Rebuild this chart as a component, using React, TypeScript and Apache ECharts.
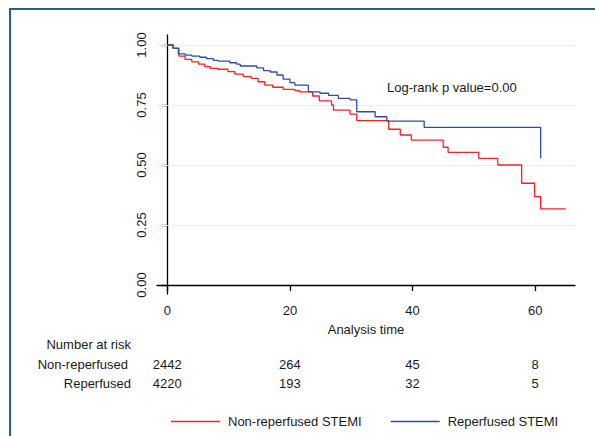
import React, { useEffect, useRef } from "react";
import * as echarts from "echarts";

const seriesNames = ["Non-reperfused STEMI", "Reperfused STEMI"];
const riskRowLabels = ["Non-reperfused", "Reperfused"];
const xTicks = [0, 20, 40, 60];
const yTicks = [0, 0.25, 0.5, 0.75, 1];
const gridValues = [0.25, 0.5, 0.75, 1];

// Kaplan-Meier survival estimates [time, survival]
const nonReperfused: [number, number][] = [
  [0, 1], [0.9, 0.987], [1.9, 0.954], [2.9, 0.94], [4, 0.93], [5.1, 0.92],
  [6.1, 0.91], [7, 0.903], [8.3, 0.899], [9.9, 0.889], [11, 0.879],
  [12.4, 0.868], [13.7, 0.861], [14.8, 0.847], [15.9, 0.833], [17.2, 0.824],
  [18.9, 0.815], [20.8, 0.81], [21.6, 0.805], [23.7, 0.7875], [24.8, 0.767],
  [26.8, 0.75], [27.1, 0.729], [29.8, 0.712], [30.9, 0.685], [36.1, 0.649],
  [38, 0.625], [39.8, 0.604], [45, 0.574], [45.8, 0.553], [50.8, 0.528],
  [53.9, 0.5], [57.8, 0.424], [59.9, 0.368], [60.9, 0.317], [65, 0.317],
];
const reperfused: [number, number][] = [
  [0, 1], [1, 0.986], [1.8, 0.963], [2.9, 0.958], [4, 0.954], [5.3, 0.949],
  [6.4, 0.943], [7.5, 0.936], [8.3, 0.933], [10.2, 0.926], [11.3, 0.92],
  [11.9, 0.9125], [14.6, 0.905], [15.7, 0.893], [16.8, 0.8875], [17.9, 0.875],
  [18.9, 0.858], [20, 0.843], [20.8, 0.833], [23, 0.805], [24.9, 0.799],
  [26.3, 0.79], [27.9, 0.778], [29.8, 0.771], [30.9, 0.722], [33.9, 0.701],
  [35.8, 0.683], [41.9, 0.657], [60.9, 0.657], [60.9, 0.528],
];

const riskTimes = [0, 20, 40, 60];
const riskNonReperfused = [2442, 264, 45, 8];
const riskReperfused = [4220, 193, 32, 5];

const FONT = "'Liberation Sans', Arial, Helvetica, sans-serif";
const TXT = "#1a1a1a";
const FS = 13;

export default function App() {
  const ref = useRef<HTMLDivElement>(null);
  useEffect(() => {
    if (!ref.current) return;
    const chart = echarts.init(ref.current, undefined, { renderer: "svg" });
    chart.setOption({
      animation: false,
      backgroundColor: "#ffffff",
      textStyle: { fontFamily: FONT, color: TXT },
      grid: { left: 157, right: 20, top: 35, bottom: 142, containLabel: false },
      xAxis: {
        type: "value",
        min: -1.68,
        max: 66.5,
        name: "Analysis time",
        nameLocation: "middle",
        nameGap: 29,
        nameTextStyle: { fontSize: FS, color: TXT, fontFamily: FONT },
        axisLine: { show: true, lineStyle: { color: "#000", width: 1.3 } },
        axisTick: { show: true, length: 6, customValues: xTicks, lineStyle: { color: "#000", width: 1.3 } },
        axisLabel: { customValues: xTicks, fontSize: FS, color: TXT, margin: 10, fontFamily: FONT },
        splitLine: { show: false },
      },
      yAxis: {
        type: "value",
        min: -0.0375,
        max: 1.0417,
        axisLine: { show: true, lineStyle: { color: "#000", width: 1.3 } },
        axisTick: { show: true, length: 6, customValues: yTicks, lineStyle: { color: "#000", width: 1.3 } },
        axisLabel: {
          customValues: yTicks,
          rotate: 90,
          fontSize: FS,
          color: TXT,
          margin: 9,
          fontFamily: FONT,
          formatter: (v: number) => v.toFixed(2),
        },
        splitLine: { show: false },
      },
      legend: {
        left: 166,
        top: 410,
        icon: "rect",
        itemWidth: 49,
        itemHeight: 1.5,
        itemGap: 29,
        textStyle: { fontSize: FS, color: TXT, fontFamily: FONT, padding: [0, 0, 0, 3] },
        data: seriesNames,
      },
      series: [
        {
          name: seriesNames[0],
          type: "line",
          step: "end",
          symbol: "none",
          data: nonReperfused,
          lineStyle: { color: "#ff1f1f", width: 1.3 },
          itemStyle: { color: "#ff1f1f" },
          z: 3,
          markLine: {
            silent: true,
            symbol: "none",
            label: { show: false },
            lineStyle: { color: "#e4edf1", width: 1, type: "solid" },
            data: gridValues.map((v) => ({ yAxis: v })),
            z: 1,
          },
        },
        {
          name: seriesNames[1],
          type: "line",
          step: "end",
          symbol: "none",
          data: reperfused,
          lineStyle: { color: "#2d4ea8", width: 1.3 },
          itemStyle: { color: "#2d4ea8" },
          z: 4,
        },
      ],
    });

    const xs = riskTimes.map((t) => (chart.convertToPixel({ gridIndex: 0 }, [t, 0]) as number[])[0]);
    const font = `${FS}px ${FONT}`;
    const graphic: any[] = [
      {
        type: "rect",
        shape: { x: 10, y: 9, width: 640, height: 480 },
        style: { fill: "none", stroke: "#2b5a92", lineWidth: 2 },
        silent: true,
      },
      {
        type: "text",
        x: 387,
        y: 87,
        style: { text: "Log-rank p value=0.00", font, fill: TXT, textVerticalAlign: "middle" },
      },
      {
        type: "text",
        x: 131,
        y: 344,
        style: { text: "Number at risk", font, fill: TXT, textAlign: "right", textVerticalAlign: "middle" },
      },
      {
        type: "text",
        x: 128,
        y: 364,
        style: { text: riskRowLabels[0], font, fill: TXT, textAlign: "right", textVerticalAlign: "middle" },
      },
      {
        type: "text",
        x: 131,
        y: 383,
        style: { text: riskRowLabels[1], font, fill: TXT, textAlign: "right", textVerticalAlign: "middle" },
      },
    ];
    xs.forEach((x, i) => {
      graphic.push({
        type: "text",
        x,
        y: 364,
        style: { text: String(riskNonReperfused[i]), font, fill: TXT, textAlign: "center", textVerticalAlign: "middle" },
      });
      graphic.push({
        type: "text",
        x,
        y: 383,
        style: { text: String(riskReperfused[i]), font, fill: TXT, textAlign: "center", textVerticalAlign: "middle" },
      });
    });
    chart.setOption({ graphic });
    return () => chart.dispose();
  }, []);
  return (
    <div
      ref={ref}
      style={{ position: "absolute", left: 0, top: 0, width: 595, height: 436, background: "#fff" }}
    />
  );
}
